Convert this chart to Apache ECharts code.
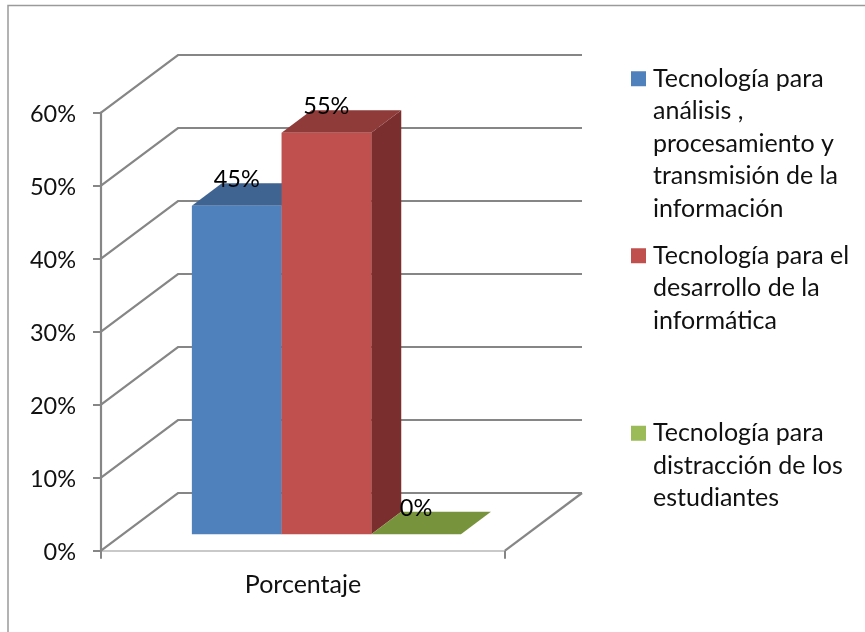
<!DOCTYPE html>
<html lang="es">
<head>
<meta charset="utf-8">
<title>Porcentaje</title>
<script src="https://cdn.jsdelivr.net/npm/echarts@6/dist/echarts.min.js"></script>
<style>
  html, body { margin: 0; padding: 0; background: #fff; }
  #chart { width: 865px; height: 632px; }
</style>
</head>
<body>
<div id="chart"></div>
<script>
// Data
const categories = ['Porcentaje'];
const seriesNames = [
  'Tecnología para análisis , procesamiento y transmisión de la información',
  'Tecnología para el desarrollo de la informática',
  'Tecnología para distracción de los estudiantes'
];
const legendLines = [
  ['Tecnología para', 'análisis ,', 'procesamiento y', 'transmisión de la', 'información'],
  ['Tecnología para el', 'desarrollo de la', 'informática'],
  ['Tecnología para', 'distracción de los', 'estudiantes']
];
const seriesValues = [45, 55, 0];
const axisTicks = [0, 10, 20, 30, 40, 50, 60];

// Colours: front face, top face, right face
const frontColors = ['#4F81BD', '#C0504D', '#9BBB59'];
const topColors = ['#3F6491', '#8E3B39', '#77933C'];
const sideColors = ['#375A82', '#7A2F2E', '#6A8535'];

const FONT = 'Lato, "Open Sans", sans-serif';
const FONT_SIZE = 25;
const NUMBER_SIZE = 23.5;
const LINE_HEIGHT = 32.5;
const GRID_COLOR = '#868686';

// Oblique projection of the box: wall depth, floor inset, bar depth
const WALL_DX = 77, WALL_DY = -57.7;
const FLOOR_DX = 23.4, FLOOR_DY = -16.4;
const BAR_DX = 30, BAR_DY = -22.6;
const BAR_BAND_RATIO = 0.222;

function poly(points, fill) {
  return { type: 'polygon', shape: { points }, style: { fill, stroke: null } };
}

// Back wall and side wall rules, one per axis tick
function renderWall(params, api) {
  const front = api.coord([0, api.value(0)]);
  const band = api.size([1, 0])[0];
  const left = front[0] - band / 2;
  const right = left + band;
  const y = front[1];
  const isFloor = api.value(0) === 0;
  const children = [{
    type: 'polyline',
    shape: { points: [[left, y], [left + WALL_DX, y + WALL_DY], [right + WALL_DX, y + WALL_DY]] },
    style: { fill: null, stroke: GRID_COLOR, lineWidth: 2.2 }
  }];
  if (isFloor) {
    children.push({
      type: 'line',
      shape: { x1: right, y1: y, x2: right + WALL_DX, y2: y + WALL_DY },
      style: { stroke: GRID_COLOR, lineWidth: 2.2 }
    });
  }
  return { type: 'group', children };
}

// One prism per series, placed on the floor inside the box
function makeBarRenderer(index) {
  return function (params, api) {
    const top = api.coord([0, api.value(1)]);
    const base = api.coord([0, 0]);
    const band = api.size([1, 0])[0];
    const barW = band * BAR_BAND_RATIO;
    const x0 = top[0] + FLOOR_DX + (index - 1.5) * barW;
    const x1 = x0 + barW;
    const yTop = top[1] + FLOOR_DY;
    const yBase = base[1] + FLOOR_DY;
    const children = [
      poly([[x1, yTop], [x1 + BAR_DX, yTop + BAR_DY], [x1 + BAR_DX, yBase + BAR_DY], [x1, yBase]], sideColors[index]),
      poly([[x0, yTop], [x0 + BAR_DX, yTop + BAR_DY], [x1 + BAR_DX, yTop + BAR_DY], [x1, yTop]], topColors[index])
    ];
    if (yBase > yTop) {
      children.push(poly([[x0, yTop], [x1, yTop], [x1, yBase], [x0, yBase]], frontColors[index]));
    }
    children.push({
      type: 'text',
      z2: 50,
      style: {
        text: api.value(1) + '%',
        x: (x0 + x1) / 2,
        y: yTop - 26,
        align: 'center',
        verticalAlign: 'middle',
        fill: '#000',
        font: NUMBER_SIZE + 'px ' + FONT
      }
    });
    return { type: 'group', children };
  };
}

const legendTops = [62.5, 239.5, 417];
const chart = echarts.init(document.getElementById('chart'), null, { renderer: 'canvas' });

chart.setOption({
  animation: false,
  backgroundColor: '#fff',
  textStyle: { fontFamily: FONT },
  grid: { left: 101, top: 112.7, width: 404, height: 438, containLabel: false },
  // Marker sits beside the first line, so the block is padded above with blank lines
  legend: seriesNames.map((name, i) => ({
    data: [name],
    orient: 'vertical',
    left: 631,
    top: legendTops[i] - (legendLines[i].length - 1) * LINE_HEIGHT,
    padding: 0,
    itemWidth: 15,
    itemHeight: 15,
    itemGap: 0,
    icon: 'rect',
    selectedMode: false,
    formatter: () => '\n'.repeat(legendLines[i].length - 1) + legendLines[i].join('\n'),
    textStyle: { fontFamily: FONT, fontSize: FONT_SIZE, color: '#111', lineHeight: LINE_HEIGHT, padding: [0, 0, 0, 2] }
  })),
  xAxis: {
    type: 'category',
    data: categories,
    boundaryGap: true,
    axisLine: { show: true, lineStyle: { color: '#c9c9c9', width: 2 } },
    axisTick: { show: true, length: 8, alignWithLabel: false, lineStyle: { color: GRID_COLOR, width: 2 } },
    axisLabel: { margin: 22, color: '#111', fontSize: FONT_SIZE, fontFamily: FONT }
  },
  yAxis: {
    type: 'value',
    min: 0,
    max: 60,
    interval: 10,
    splitLine: { show: false },
    axisLine: { show: true, lineStyle: { color: GRID_COLOR, width: 2.2 } },
    axisTick: { show: true, length: 8, lineStyle: { color: GRID_COLOR, width: 2 } },
    axisLabel: {
      margin: 25,
      formatter: value => '{v|' + value + '%}',
      rich: { v: { color: '#111', fontSize: NUMBER_SIZE, fontFamily: FONT, padding: [4, 0, 0, 0] } }
    }
  },
  series: [
    {
      type: 'custom',
      name: 'walls',
      coordinateSystem: 'cartesian2d',
      renderItem: renderWall,
      data: axisTicks.map(t => [t]),
      encode: { y: 0 },
      silent: true,
      z: 1
    }
  ].concat(seriesNames.map((name, i) => ({
    type: 'custom',
    name,
    coordinateSystem: 'cartesian2d',
    renderItem: makeBarRenderer(i),
    itemStyle: { color: frontColors[i] },
    data: [[categories[0], seriesValues[i]]],
    encode: { x: 0, y: 1 },
    silent: true,
    z: 2 + i
  }))),
  graphic: [{
    type: 'polyline',
    silent: true,
    shape: { points: [[8, 632], [8, 5.5], [865, 5.5]] },
    style: { fill: null, stroke: '#9a9a9a', lineWidth: 1.5 }
  }]
});
</script>
</body>
</html>
